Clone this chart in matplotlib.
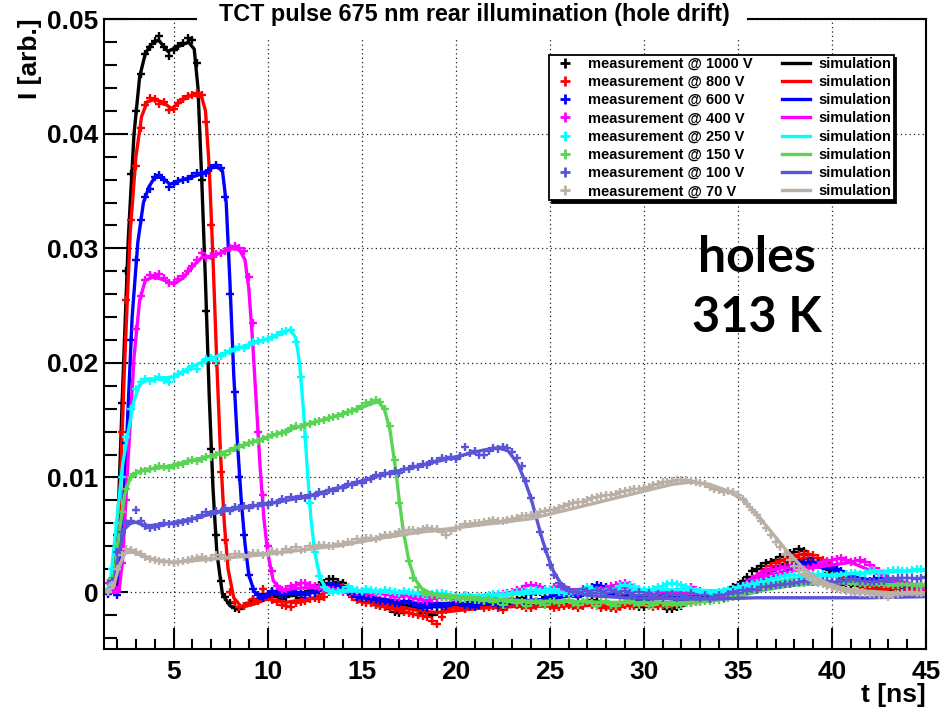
import numpy as np
import matplotlib
matplotlib.use("Agg")
import matplotlib.pyplot as plt
from matplotlib.patches import Rectangle

# ============================
# Data - currents in units of 1e-4 (arb.)
# ============================
voltages = [1000, 800, 600, 400, 250, 150, 100, 70]
colors = ["#000000", "#ff0000", "#0000ff", "#ff00ff",
          "#00ffff", "#59d454", "#5954d8", "#bab0a6"]

# measurements sampled every 0.25 ns from t = 1.5 ns (one row = 5 ns)
T0, DT = 1.5, 0.25

m1000 = [0, 4, 50, 165, 280, 365, 420, 452, 470, 476, 481, 485, 476, 468, 473, 477, 479, 484, 482, 462,
         360, 245, 125, 50, 10, -4, -10, -14, -15, -12, -10, -7, -6, -2, -4, 0, -2, -6, -4, -1,
         -3, -5, -2, 1, 2, 6, 8, 11, 11, 9, 8, 4, 2, -2, -4, -5, -8, -11, -12, -12,
         -15, -17, -18, -15, -14, -12, -15, -18, -18, -20, -17, -13, -12, -10, -10, -14, -12, -9, -8, -10,
         -10, -12, -12, -9, -8, -6, -6, -7, -5, -2, -2, 0, 0, -4, -5, -8, -8, -10, -10, -12,
         -12, -9, -9, -7, -8, -11, -12, -14, -14, -11, -10, -9, -11, -13, -13, -10, -9, -11, -12, -15,
         -15, -13, -12, -9, -8, -6, -6, -4, -4, -2, -2, 0, 0, 4, 6, 10, 13, 18, 20, 23,
         25, 26, 28, 31, 31, 34, 35, 38, 36, 32, 30, 25, 22, 17, 14, 9, 6, 3, 2, 0,
         0, 2, 2, 4, 3, 1, 1, -1, 0, 2, 2, 4, 3, 5, 5]
m800 = [0, 3, 30, 140, 255, 325, 372, 405, 425, 431, 430, 426, 428, 421, 422, 427, 430, 433, 434, 436,
        434, 410, 320, 200, 105, 45, 0, -9, -13, -12, -10, -6, -8, 3, -3, -7, -9, -11, -12, -13,
        -10, -9, -8, -6, -5, -6, -4, 0, 5, 6, 4, 0, -4, -7, -9, -10, -10, -11, -12, -13,
        -14, -15, -16, -17, -18, -19, -20, -21, -22, -25, -28, -22, -16, -14, -13, -14, -15, -13, -11, -12,
        -14, -13, -12, -14, -16, -13, -10, -11, -12, -14, -14, -12, -10, -11, -12, -14, -13, -12, -11, -12,
        -14, -12, -10, -11, -12, -14, -13, -14, -15, -13, -11, -12, -12, -11, -10, -12, -13, -12, -11, -12,
        -12, -10, -9, -10, -10, -9, -8, -7, -6, -5, -4, -3, -2, 0, 2, 5, 8, 11, 14, 17,
        20, 23, 25, 27, 28, 30, 31, 32, 33, 33, 32, 30, 28, 25, 22, 19, 16, 13, 10, 8,
        6, 5, 4, 3, 2, 1, 0, -1, -2, -1, 0, 1, 2, 3, 3]
m600 = [-2, 2, -3, 55, 130, 220, 290, 325, 345, 352, 362, 364, 360, 354, 356, 359, 360, 361, 363, 366,
        365, 366, 370, 373, 370, 345, 260, 175, 100, 50, 15, 3, -3, -5, -2, 1, 0, -3, -2, 1,
        0, -2, -3, -1, -1, 2, 4, 6, 6, 5, 3, 0, -2, -4, -5, -5, -6, -7, -8, -8,
        -9, -10, -10, -9, -8, -10, -12, -13, -14, -12, -11, -12, -12, -10, -9, -10, -11, -12, -13, -11,
        -9, -9, -10, -11, -12, -10, -8, -9, -10, -8, -7, -8, -9, -6, -4, -3, -2, -1, 0, -2,
        -4, -1, 2, 4, 6, 5, 4, 2, 0, -2, -4, -5, -6, -7, -8, -6, -4, -3, -2, -3,
        -5, -7, -8, -7, -6, -4, -3, -5, -6, -5, -4, -2, 0, 2, 4, 6, 8, 10, 12, 14,
        16, 18, 20, 21, 22, 23, 24, 25, 25, 26, 26, 25, 24, 23, 22, 20, 18, 16, 14, 13,
        12, 11, 10, 11, 12, 10, 9, 7, 6, 5, 5, 4, 4, 5, 6]
m400 = [8, 6, 2, 25, 80, 160, 230, 258, 272, 277, 276, 278, 274, 270, 270, 273, 276, 280, 285, 290,
        296, 292, 293, 295, 296, 298, 300, 302, 300, 298, 275, 235, 140, 85, 40, 18, 5, 2, 3, 5,
        6, 8, 8, 6, 5, 4, 3, 2, 2, 1, 0, 2, 1, 0, 0, -1, -2, -1, -1, -2,
        -3, -4, -4, -3, -3, -5, -6, -7, -8, -6, -5, -4, -4, -5, -6, -4, -3, -4, -5, -6,
        -7, -5, -4, -3, -2, -1, 0, 2, 3, 5, 6, 5, 4, 3, 2, 4, 5, 3, 2, 0,
        -1, 0, 1, 0, 0, 2, 3, 5, 6, 7, 8, 6, 4, 2, 0, -2, -3, -4, -5, -3,
        -2, 0, 2, 3, 4, 2, 1, -1, -2, -3, -4, -3, -2, 0, 2, 5, 8, 11, 14, 16,
        18, 19, 20, 21, 22, 22, 22, 21, 20, 21, 22, 24, 25, 27, 28, 29, 30, 28, 26, 27,
        28, 26, 24, 21, 18, 15, 12, 10, 8, 7, 6, 5, 4, 3, 3]
m250 = [3, 20, 60, 100, 135, 160, 177, 183, 186, 184, 186, 188, 185, 183, 188, 190, 192, 194, 197, 195,
        200, 203, 204, 202, 206, 209, 210, 212, 214, 213, 216, 218, 219, 220, 221, 223, 224, 227, 228, 229,
        218, 188, 135, 78, 35, 14, 4, 1, 0, 1, 2, 4, 3, 2, 1, 3, 2, 1, 0, 2,
        1, 0, -1, 1, 0, -1, -2, -2, -3, -2, -1, -1, -2, -3, -4, -4, -3, -4, -5, -4,
        -4, -3, -2, -2, -3, -2, -1, 0, 0, 1, 2, 2, 1, 2, 3, 2, 0, -1, -2, -1,
        0, 2, 4, 3, 2, 1, 0, 2, 3, 5, 6, 5, 4, 3, 2, 2, 3, 4, 5, 7,
        8, 7, 6, 4, 3, 1, 0, -1, -2, -1, 0, 1, 2, 3, 4, 5, 6, 7, 8, 9,
        10, 11, 12, 13, 14, 15, 15, 15, 14, 14, 15, 16, 16, 15, 14, 14, 15, 16, 17, 17,
        16, 17, 18, 18, 17, 17, 18, 19, 19, 18, 18, 19, 20, 20, 19]
m150 = [0, 12, 40, 70, 90, 100, 104, 106, 106, 107, 108, 110, 109, 108, 110, 111, 112, 114, 115, 114,
        116, 118, 118, 120, 121, 120, 123, 126, 127, 128, 130, 131, 132, 134, 135, 137, 138, 139, 140, 143,
        145, 144, 146, 147, 148, 149, 150, 152, 153, 154, 155, 157, 158, 160, 162, 165, 166, 168, 166, 160,
        145, 115, 78, 50, 27, 12, 4, 0, -2, -3, -3, -4, -4, -5, -5, -6, -6, -6, -7, -7,
        -8, -6, -9, -8, -11, -9, -7, -10, -9, -12, -10, -8, -10, -11, -9, -8, -10, -9, -7, -10,
        -11, -9, -8, -10, -12, -9, -8, -11, -12, -10, -9, -8, -10, -11, -9, -12, -11, -9, -10, -11,
        -10, -11, -11, -10, -10, -9, -9, -8, -8, -7, -7, -6, -5, -4, -3, -1, 0, 2, 3, 4,
        5, 6, 6, 7, 8, 9, 9, 8, 8, 9, 10, 9, 9, 8, 8, 9, 10, 9, 9, 8,
        8, 7, 7, 8, 8, 7, 7, 6, 6, 7, 7, 6, 6, 5, 5]
m100 = [0, 10, 35, 52, 60, 62, 72, 62, 58, 56, 57, 58, 60, 59, 59, 60, 61, 62, 64, 65,
        67, 70, 68, 71, 70, 73, 71, 74, 73, 75, 73, 76, 75, 78, 76, 79, 78, 81, 80, 83,
        81, 84, 82, 85, 84, 87, 86, 89, 88, 91, 91, 94, 93, 96, 95, 98, 99, 102, 101, 104,
        103, 106, 104, 107, 107, 110, 109, 112, 111, 114, 114, 117, 116, 118, 116, 119, 127, 121, 123, 120,
        120, 123, 126, 125, 127, 126, 122, 117, 110, 97, 82, 66, 52, 38, 24, 15, 8, 4, 1, 0,
        0, 3, 1, -1, 2, 1, -1, 2, 0, -2, 1, -1, -3, 0, -3, -1, -4, -2, -5, -3,
        -2, -5, -3, -4, -1, -4, -5, -3, -6, -4, -3, -5, -2, 0, -1, 2, 1, 3, 2, 4,
        4, 5, 6, 6, 7, 7, 8, 9, 10, 10, 9, 9, 10, 10, 9, 9, 10, 10, 11, 11,
        10, 10, 9, 9, 10, 10, 11, 11, 12, 12, 12, 12, 11, 12, 13]
m70 = [0, 6, 20, 32, 38, 37, 35, 33, 31, 29, 28, 27, 26, 26, 25, 26, 27, 28, 29, 30,
       31, 29, 30, 32, 32, 30, 31, 33, 33, 31, 32, 34, 34, 32, 34, 36, 35, 35, 38, 37,
       39, 37, 38, 40, 39, 41, 41, 40, 40, 42, 42, 44, 44, 46, 45, 47, 47, 46, 48, 50,
       50, 51, 52, 53, 54, 54, 53, 55, 56, 55, 55, 52, 50, 53, 56, 57, 59, 59, 60, 60,
       61, 62, 63, 62, 62, 63, 64, 65, 66, 66, 67, 68, 70, 71, 72, 72, 73, 75, 77, 78,
       79, 79, 80, 82, 83, 84, 85, 85, 86, 87, 88, 89, 90, 90, 91, 92, 93, 94, 96, 96,
       97, 98, 98, 98, 97, 96, 95, 94, 92, 90, 89, 87, 88, 87, 85, 81, 77, 72, 67, 62,
       56, 50, 44, 39, 33, 28, 23, 19, 16, 13, 10, 8, 7, 5, 4, 3, 2, 1, 0, 0,
       -1, -1, -2, -2, -3, -3, -4, -3, -2, -1, 0, 0, -1, -1, -2]

# simulated pulses, (t [ns], I [1e-4])
s1000_t = [1.3, 1.8, 2.0, 2.3, 2.6, 2.9, 3.2, 3.5, 3.8, 4.2, 4.7, 5.2, 5.8, 6.1, 6.3, 6.5, 6.7, 6.9, 7.1, 7.3,
           7.6, 8.0, 8.4, 9.0, 10.0, 11.5, 13.0, 13.6, 14.5, 16.0, 18.0, 22.0, 26.0, 30.0, 33.0, 35.0, 36.5, 38.0, 39.5, 41.0,
           43.0, 45.0]
s1000_i = [0, 5, 40, 180, 310, 400, 450, 470, 478, 482, 472, 476, 480, 474, 440, 360, 270, 170, 90, 35,
           -2, -12, -15, -10, -4, -3, 6, 8, 2, -8, -13, -12, -11, -12, -8, 6, 18, 28, 22, 6,
           3, 4]
s800_t = [1.3, 1.9, 2.1, 2.4, 2.7, 3.0, 3.3, 3.6, 4.0, 4.4, 4.9, 5.5, 6.0, 6.5, 6.7, 6.9, 7.1, 7.3, 7.5, 7.7,
          7.9, 8.2, 8.6, 9.2, 10.0, 11.0, 12.5, 13.6, 14.5, 16.0, 18.0, 19.0, 22.0, 26.0, 30.0, 33.0, 35.0, 36.5, 38.5, 40.0,
          42.0, 45.0]
s800_i = [0, 5, 60, 200, 315, 380, 415, 428, 430, 428, 422, 430, 434, 432, 420, 370, 290, 200, 120, 60,
          20, -5, -13, -11, -6, -9, -5, 4, -2, -10, -16, -18, -13, -12, -11, -8, 4, 16, 30, 20,
          4, 2]
s600_t = [1.3, 2.0, 2.2, 2.5, 2.8, 3.1, 3.4, 3.7, 4.0, 4.4, 4.8, 5.5, 6.5, 7.2, 7.6, 7.8, 8.0, 8.2, 8.4, 8.6,
          8.8, 9.0, 9.3, 9.7, 10.5, 11.5, 12.5, 13.5, 14.5, 16.0, 18.0, 22.0, 25.0, 27.5, 30.0, 33.0, 35.0, 36.5, 38.5, 40.0,
          42.0, 45.0]
s600_i = [0, 0, 30, 130, 240, 305, 340, 354, 362, 362, 356, 360, 365, 372, 368, 340, 270, 190, 130, 80,
          42, 15, 0, -4, -1, -1, 0, 5, 0, -6, -10, -10, -6, 0, -5, -4, 3, 12, 24, 20,
          8, 5]
s400_t = [1.3, 2.1, 2.3, 2.6, 2.9, 3.2, 3.5, 3.9, 4.4, 5.0, 5.5, 6.0, 6.5, 7.0, 7.5, 8.0, 8.5, 8.8, 9.0, 9.2,
          9.4, 9.6, 9.8, 10.0, 10.3, 10.7, 11.5, 12.5, 13.5, 15.0, 17.0, 20.0, 23.0, 26.0, 29.0, 32.0, 34.5, 36.5, 38.5, 41.0,
          43.0, 45.0]
s400_i = [0, 0, 30, 120, 205, 255, 272, 275, 273, 269, 274, 284, 292, 293, 296, 300, 299, 290, 265, 220,
          165, 110, 65, 35, 10, 2, 3, 4, 2, 0, -3, -5, -1, 2, 3, -1, -1, 14, 20, 26,
          12, 4]
s250_t = [1.3, 1.6, 2.0, 2.3, 2.6, 2.9, 3.2, 3.6, 4.2, 5.0, 6.0, 7.0, 8.0, 9.0, 10.0, 10.8, 11.2, 11.5, 11.7, 11.9,
          12.1, 12.3, 12.5, 12.8, 13.1, 13.5, 14.5, 16.0, 18.0, 20.0, 22.0, 24.0, 26.0, 28.0, 30.0, 32.0, 34.0, 36.0, 38.0, 40.0,
          42.0, 45.0]
s250_i = [0, 2, 65, 112, 141, 167, 181, 186, 186, 188, 197, 204, 210, 216, 221, 226, 229, 222, 200, 160,
          110, 65, 35, 12, 3, 0, 1, 0, -1, -3, -3, -1, 0, 1, 2, 2, 1, 6, 12, 15,
          17, 19]
s150_t = [1.3, 1.8, 2.1, 2.4, 2.7, 3.0, 3.5, 4.5, 6.0, 7.5, 9.0, 10.5, 12.0, 13.5, 15.0, 15.6, 15.9, 16.2, 16.5, 16.8,
          17.0, 17.2, 17.5, 17.8, 18.2, 18.8, 20.0, 22.0, 24.0, 26.0, 28.0, 30.0, 32.0, 33.5, 35.0, 36.5, 38.0, 40.0, 42.0, 45.0]
s150_i = [0, 5, 50, 85, 100, 104, 107, 109, 115, 121, 130, 138, 146, 153, 161, 165, 166, 160, 142, 108,
          80, 55, 28, 12, 3, -2, -4, -6, -8, -8, -9, -9, -9, -8, -4, 2, 6, 8, 7, 6]
s100_t = [1.3, 1.8, 2.1, 2.4, 2.7, 3.0, 3.3, 3.7, 4.5, 6.0, 8.0, 10.0, 12.0, 14.0, 16.0, 18.0, 20.0, 21.5, 22.3, 22.8,
          23.3, 23.7, 24.0, 24.3, 24.6, 24.9, 25.2, 25.6, 26.2, 27.0, 29.0, 32.0, 34.0, 36.0, 38.0, 40.0, 42.0, 45.0]
s100_i = [0, 5, 35, 55, 60, 61, 59, 58, 59, 64, 72, 77, 83, 92, 102, 110, 118, 124, 126, 123,
          112, 96, 82, 64, 46, 31, 18, 7, 1, -3, -5, -6, -6, -5, -5, -5, -5, -4]
s70_t = [1.3, 1.8, 2.1, 2.4, 2.8, 3.3, 4.0, 5.0, 6.5, 8.0, 10.0, 12.0, 14.0, 16.0, 18.0, 20.0, 22.0, 24.0, 26.0, 28.0,
         30.0, 31.5, 32.5, 33.5, 34.5, 35.3, 36.0, 36.8, 37.6, 38.4, 39.2, 40.0, 41.0, 42.5, 45.0]
s70_i = [0, 4, 22, 34, 35, 32, 28, 26, 28, 30, 33, 37, 41, 47, 52, 56, 60, 64, 72, 80,
         88, 94, 96, 94, 88, 80, 68, 52, 36, 22, 12, 6, 2, 0, -2]

meas = [m1000, m800, m600, m400, m250, m150, m100, m70]
sims = [(s1000_t, s1000_i), (s800_t, s800_i), (s600_t, s600_i), (s400_t, s400_i),
        (s250_t, s250_i), (s150_t, s150_i), (s100_t, s100_i), (s70_t, s70_i)]

# ============================
# Figure
# ============================
plt.rcParams["font.family"] = ["Liberation Sans", "DejaVu Sans"]
plt.rcParams["font.weight"] = "bold"

W, H = 947, 709
fig = plt.figure(figsize=(W / 100, H / 100), dpi=100)
ax = fig.add_axes([104.3 / W, 1 - 649.3 / H, (926 - 104.3) / W, (649.3 - 19.3) / H])

h_meas, h_sim = [], []
for v, c, m, (st, si) in zip(voltages, colors, meas, sims):
    tm = T0 + DT * np.arange(len(m))
    hm, = ax.plot(tm, np.array(m) * 1e-4, linestyle="none", marker="+",
                  ms=6, mew=1.7, color=c)
    hs, = ax.plot(st, np.array(si) * 1e-4, color=c, lw=2.4)
    h_meas.append(hm)
    h_sim.append(hs)

ax.set_xlim(1.32, 45.0)
ax.set_ylim(-0.005, 0.05)

ax.set_xticks(np.arange(5, 46, 5))
ax.set_xticks(np.arange(2, 46, 1), minor=True)
yt = [0, 0.01, 0.02, 0.03, 0.04, 0.05]
ax.set_yticks(yt, ["0", "0.01", "0.02", "0.03", "0.04", "0.05"])
ax.set_yticks(np.arange(-0.004, 0.0501, 0.002), minor=True)

ax.tick_params(which="both", direction="in", width=1.5, labelsize=19,
               top=False, right=False)
ax.tick_params(axis="x", which="major", length=15, pad=8)
ax.tick_params(axis="x", which="minor", length=7)
ax.tick_params(axis="y", which="major", length=17, pad=4)
ax.tick_params(axis="y", which="minor", length=9)
for s in ax.spines.values():
    s.set_linewidth(1.5)

ax.set_axisbelow(True)
ax.grid(True, which="major", color="#222222", linestyle=(0, (1, 2.5)), linewidth=0.9)

# legend: markers in first column, simulation lines in second
labels = [f"measurement @ {v} V" for v in voltages] + ["simulation"] * 8
leg = ax.legend(handles=h_meas + h_sim, labels=labels, ncol=2,
                loc="upper left", bbox_to_anchor=(549 / W, 1 - 55 / H),
                bbox_transform=fig.transFigure, borderaxespad=0,
                fontsize=10.5, handlelength=1.95, handletextpad=0.6,
                columnspacing=2.0, labelspacing=0.29, borderpad=0.12,
                fancybox=False, framealpha=1, edgecolor="black",
                shadow={"color": "black", "alpha": 1})
leg.get_frame().set_linewidth(1.3)
for h in leg.legend_handles[:8]:
    h.set_markersize(7)
    h.set_markeredgewidth(2.0)

# title box sits over the top of the frame
fig.patches.append(Rectangle((197 / W, 1 - 38 / H), 550 / W, 38 / H,
                             transform=fig.transFigure, facecolor="white",
                             edgecolor="none", zorder=2))
fig.text(474 / W, 1 - 14 / H, "TCT pulse 675 nm rear illumination (hole drift)",
         ha="center", va="center", fontsize=16.8, fontweight="bold", zorder=3)

fig.text(30 / W, 1 - 18 / H, "I [arb.]", rotation=90, ha="center", va="top",
         fontsize=19, fontweight="bold")
fig.text(926 / W, 1 - 695 / H, "t [ns]", ha="right", va="center",
         fontsize=19, fontweight="bold")

fig.text(757 / W, 1 - 258 / H, "holes", ha="center", va="center",
         fontsize=36, fontweight="bold", family=["Lato", "DejaVu Sans"])
fig.text(757 / W, 1 - 318 / H, "313 K", ha="center", va="center",
         fontsize=35, fontweight="bold", family=["Lato", "DejaVu Sans"])

fig.savefig("out.png", dpi=100)
